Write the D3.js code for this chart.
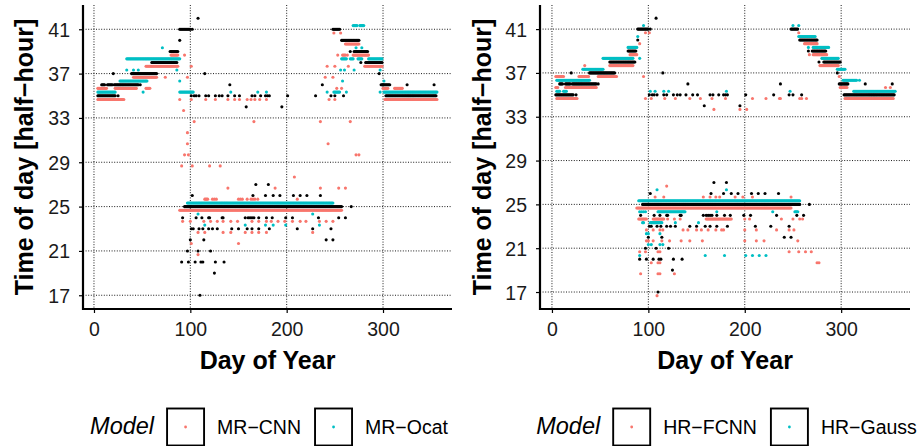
<!DOCTYPE html>
<html><head><meta charset="utf-8">
<script src="https://cdn.jsdelivr.net/npm/d3@7"></script>
<style>
body{margin:0;background:#fff}
svg{display:block;font-family:"Liberation Sans",Arial,Helvetica,sans-serif}
</style></head><body>
<svg id="chart" width="924" height="446"></svg>
<script>
// ---------- DATA ----------
// runs: [firstDay, lastDay, value] one point per day; singles: [value, [days]]
const observedRuns = [
 [4,22,35],[8,11,36],[14,19,36],[21,46,36],[39,65,37],[60,86,38],[79,87,39],[89,100,41],
 [94,257,25],
 [248,255,41],[257,275,40],[270,284,39],[282,299,38],[298,307,36],[303,355,35]
];
const observedSingles = [
 [35,[25,101,104,106,109,116,119,126,130,133,139,146,151,164,167,173,178,180,182,201,230,246,250,259]],
 [36,[48,141,237,325,353]],
 [37,[20,115,296]],
 [38,[277]],
 [39,[266]],
 [40,[89]],
 [41,[102]],
 [42,[108]],
 [34,[158,195]],
 [27,[168,181]],
 [26,[102,165,178,186,193,207,214,221,235]],
 [25,[267]],
 [24,[92,106,112,119,120,133,134,157,160,162,164,166,171,179,185,199,206,233,254,261]],
 [23,[101,103,109,113,119,123,128,143,150,159,164,171,182,211,227,246]],
 [22,[100,114,241,248]],
 [21,[97,108,121]],
 [20,[91,98,105,111,113,126,135]],
 [19,[125]],
 [17,[110]]
];

const mrCnnRuns = [
 [4,31,35],[4,13,36],[22,44,36],[54,58,36],[41,65,37],[54,87,38],[80,87,39],
 [89,257,25],
 [261,275,40],[269,285,39],[258,261,39],[281,299,38],[300,305,36],[312,320,36],[302,356,35]
];
const mrCnnSingles = [
 [35,[89,101,116,126,139,146,151,159,163,167,172,179,244,250]],
 [36,[252,257]],
 [37,[74,97,240,248]],
 [38,[101,242,250,264]],
 [39,[94,253,263]],
 [41,[249,256]],
 [34,[93]],
 [33,[104,166,235,266]],
 [32,[97]],
 [31,[97,243]],
 [30,[94,98,272,275]],
 [29,[91,102,120,131]],
 [28,[208]],
 [27,[139,188,235,254,261]],
 [26,[115,116,117,118,123,125,127,150,152,154,159,163,165,167,170,211]],
 [24,[92,100,114,121,128,134,142,149,164,171,179,184,191,198,206,214,220,234,241,248]],
 [23,[108,115,134,142,157,164,171,179,227]],
 [22,[101,150]],
 [21,[108]]
];

const mrOcatRuns = [
 [4,22,35],[27,55,36],[34,89,38],[89,103,35],
 [97,248,25],
 [249,255,35],[257,262,38],[266,269,38],[274,278,38],[285,299,38],[269,273,41],[276,280,41],[301,356,35]
];
const mrOcatSingles = [
 [35,[51,142,170,179,242,262,297]],
 [36,[89,258,301]],
 [37,[34,41,46,86,256,260,270,297]],
 [39,[71,272,278]],
 [24,[108,227]],
 [23,[115,157,178,186,199,234]]
];

const hrFcnnRuns = [
 [5,26,35],[4,6,36],[14,46,36],[4,12,37],[28,38,37],[48,67,37],[60,84,38],[81,88,39],
 [88,248,25],[90,98,24],[105,116,24],[160,186,24],
 [262,275,40],[271,285,39],[278,297,38],[299,306,36],[304,354,35]
];
const hrFcnnSingles = [
 [35,[97,103,117,128,143,154,166,180,208,222,236,237,257,259,264]],
 [34,[168,195,202]],
 [36,[43,346,351]],
 [37,[95,298]],
 [38,[34]],
 [39,[267]],
 [40,[91]],
 [41,[97,101,256]],
 [27,[119]],
 [26,[107,116,157,164,170,174,190,198,208,248]],
 [24,[120,127,133,200,205,238,250,257,260]],
 [23,[98,105,112,115,136,141,150,155,162,170,176,178,200,212,233,246,251]],
 [22,[98,100,105,114,122,134,143,156,200,212,220,255]],
 [21,[91,97,110,112,246,256,263,269]],
 [20,[103,110,112,275,277]],
 [19,[92,110,112,127]],
 [17,[109]]
];

const hrGaussRuns = [
 [5,8,35],[12,15,35],[5,39,36],[32,53,37],[53,84,38],[79,88,39],
 [90,257,25],[110,138,24],[102,114,23],
 [256,273,40],[271,287,39],[280,297,38],[296,304,37],[302,316,36],[313,356,35]
];
const hrGaussSingles = [
 [35,[102,107,116,121,181,247]],
 [36,[319]],
 [38,[91]],
 [39,[266]],
 [40,[89]],
 [41,[95,250,256]],
 [26,[109,181]],
 [24,[91,93,95,97,171,229,252,253,254,255]],
 [23,[94,95,128,152]],
 [22,[98,100,112]],
 [21,[100,103,112,115]],
 [20,[91,159,179,201,208,215,222]]
];

const xTickValues = [0,100,200,300];
const yTickValues = [17,21,25,29,33,37,41];
const legendTitle = "Model";
const leftModelNames = ["MR−CNN","MR−Ocat"];
const rightModelNames = ["HR−FCNN","HR−Gauss"];
const xTitle = "Day of Year";
const yTitle = "Time of day [half−hour]";

// ---------- STYLE ----------
const colPred1 = "#F8766D", colPred2 = "#00BFC4", colObs = "#000000";
const nudgePred1 = -0.33, nudgePred2 = 0.33;   // vertical dodge (value units)
const pointR = 1.55;

function expand(runs, singles){
  const pts = [];
  runs.forEach(([s,e,v]) => { for (let d = s; d <= e; d++) pts.push([d, v]); });
  singles.forEach(([v, ds]) => ds.forEach(d => pts.push([d, v])));
  return pts;
}
const observed = expand(observedRuns, observedSingles);

const panels = [
  {left:83, right:452, top:5, bottom:309, xDomain:[-11.4,371.6], yDomain:[15.76,43.19],
   names:leftModelNames, p1:expand(mrCnnRuns,mrCnnSingles), p2:expand(mrOcatRuns,mrOcatSingles), titleX:33},
  {left:540, right:910, top:5, bottom:309, xDomain:[-12.4,371.4], yDomain:[15.45,43.2],
   names:rightModelNames, p1:expand(hrFcnnRuns,hrFcnnSingles), p2:expand(hrGaussRuns,hrGaussSingles), titleX:491}
];

const svg = d3.select("#chart");

panels.forEach(p => {
  const x = d3.scaleLinear().domain(p.xDomain).range([p.left, p.right]);
  const y = d3.scaleLinear().domain(p.yDomain).range([p.bottom, p.top]);
  const g = svg.append("g");

  // grid
  const grid = g.append("g").attr("stroke","#000").attr("stroke-width",0.9).attr("stroke-dasharray","1 1.6");
  grid.selectAll("line.v").data(xTickValues).join("line")
    .attr("x1", d => x(d)).attr("x2", d => x(d)).attr("y1", p.top).attr("y2", p.bottom);
  grid.selectAll("line.h").data(yTickValues).join("line")
    .attr("y1", d => y(d)).attr("y2", d => y(d)).attr("x1", p.left).attr("x2", p.right);

  // points
  const drawPts = (data, color, nudge) => {
    g.append("g").attr("fill", color).selectAll("circle").data(data).join("circle")
      .attr("cx", d => x(d[0])).attr("cy", d => y(d[1] + nudge)).attr("r", pointR);
  };
  drawPts(p.p1, colPred1, nudgePred1);
  drawPts(p.p2, colPred2, nudgePred2);
  drawPts(observed, colObs, 0);

  // axes
  const ax = g.append("g").attr("transform", `translate(0,${p.bottom})`)
    .call(d3.axisBottom(x).tickValues(xTickValues).tickSize(4).tickPadding(9).tickSizeOuter(0));
  const ay = g.append("g").attr("transform", `translate(${p.left},0)`)
    .call(d3.axisLeft(y).tickValues(yTickValues).tickSize(4).tickPadding(9).tickSizeOuter(0));
  [ax, ay].forEach(a => {
    a.select(".domain").remove();
    a.selectAll(".tick line").attr("stroke","#000").attr("stroke-width",1.2);
    a.selectAll(".tick text").attr("fill","#1a1a1a").style("font-size","19.5px")
      .style("font-family",'"Liberation Sans",Arial,sans-serif');
  });
  ay.selectAll(".tick text").attr("dy","0.36em");
  g.append("line").attr("x1",p.left).attr("x2",p.left).attr("y1",p.top).attr("y2",p.bottom+1)
    .attr("stroke","#000").attr("stroke-width",2.2);
  g.append("line").attr("x1",p.left-1).attr("x2",p.right).attr("y1",p.bottom).attr("y2",p.bottom)
    .attr("stroke","#000").attr("stroke-width",2.2);

  // titles
  g.append("text").attr("x",(p.left+p.right)/2).attr("y",369).attr("text-anchor","middle")
    .style("font-weight","bold").style("font-size","25px").text(xTitle);
  g.append("text").attr("transform",`translate(${p.titleX},${(p.top+p.bottom)/2}) rotate(-90)`)
    .attr("text-anchor","middle").style("font-weight","bold").style("font-size","25px").text(yTitle);

  // legend
  const lg = g.append("g");
  let cx = 0;
  const t = lg.append("text").attr("x",cx).attr("y",434.3).style("font-style","italic")
    .style("font-size","23.5px").text(legendTitle);
  cx += t.node().getComputedTextLength() + 13;
  const cols = [colPred1, colPred2];
  p.names.forEach((nm, i) => {
    lg.append("rect").attr("x",cx).attr("y",408.5).attr("width",37).attr("height",37)
      .attr("fill","#fff").attr("stroke","#000").attr("stroke-width",1.9);
    lg.append("circle").attr("cx",cx+18.5).attr("cy",427).attr("r",1.4).attr("fill",cols[i]);
    cx += 37 + 13;
    const tt = lg.append("text").attr("x",cx).attr("y",433.8).style("font-size","19.5px").text(nm);
    cx += tt.node().getComputedTextLength() + (i === 0 ? 14 : 0);
  });
  const center = (p.left + p.right)/2 + 1.5;
  lg.attr("transform", `translate(${center - cx/2},0)`);
});
</script>
</body></html>
